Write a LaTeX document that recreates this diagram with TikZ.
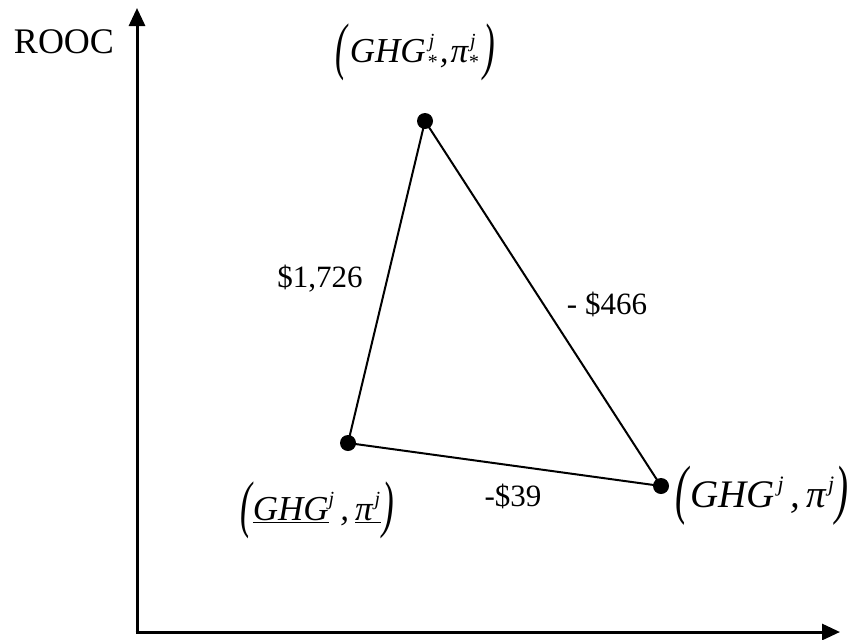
\documentclass[tikz,border=0pt]{standalone}
\usepackage{fontspec}
\usepackage{graphicx}
\setmainfont{Liberation Serif}
\usetikzlibrary{arrows.meta}
\newcommand{\lpar}[2]{\raisebox{#2}{\scalebox{1}[#1]{(}}}
\newcommand{\rpar}[2]{\raisebox{#2}{\scalebox{1}[#1]{)}}}
\newcommand{\sj}[2]{\raisebox{#2}{\fontsize{#1}{#1}\selectfont j}}
\newcommand{\sst}[2]{\raisebox{#2}{\fontsize{#1}{#1}\selectfont *}}
\begin{document}
\begin{tikzpicture}[x=1pt,y=-1pt,
  axis/.style={line width=3pt,-{Triangle[length=18pt,width=16pt]}},
  edge/.style={line width=2pt},
  dot/.style={circle,fill=black,inner sep=0pt,minimum size=16pt},
  lbl/.style={font=\fontsize{31}{36}\selectfont,inner sep=0pt},
  mlbl/.style={font=\itshape,inner sep=0pt}]
\useasboundingbox (0,0) rectangle (849,640);
\coordinate (ytop) at (137,8);
\coordinate (xend) at (840,632);
\draw[axis] (137,633.5) -- (ytop);
\draw[axis] (135.5,632) -- (xend);
\node[font=\fontsize{36}{40}\selectfont,inner sep=0pt] (yl) at (64,42) {ROOC};
\node[dot] (A) at (425,121) {};
\node[dot] (B) at (348,443) {};
\node[dot] (C) at (661,486) {};
\draw[edge] (A.center) -- (B.center) -- (C.center) -- (A.center);
\node[mlbl] (la) at (415,52) {\fontsize{35}{38}\selectfont\lpar{1.8}{-0.135em}\kern3pt GHG\kern1pt\makebox[0pt][l]{\kern2pt\sj{20}{0.42em}}\sst{20}{-0.17em}\kern3pt,\kern2ptπ\makebox[0pt][l]{\kern2pt\sj{20}{0.42em}}\sst{20}{-0.17em}\kern5pt\rpar{1.8}{-0.135em}};
\node[mlbl] (lb) at (317,510) {\fontsize{35}{38}\selectfont\lpar{1.8}{-0.135em}\kern1pt\underline{GHG}\sj{20}{0.42em}\kern6pt,\kern6pt\underline{π\kern2pt\sj{20}{0.42em}\kern1pt}\kern1pt\rpar{1.8}{-0.135em}};
\node[mlbl,anchor=west] (lc) at (675,496) {\fontsize{39}{42}\selectfont\lpar{1.68}{-0.104em}\kern2pt GHG\kern3pt\sj{22}{0.42em}\kern7pt,\kern6ptπ\kern2pt\sj{22}{0.42em}\kern1pt\rpar{1.68}{-0.104em}};
\node[lbl] (e1) at (320,279) {\$1,726};
\node[lbl] (e2) at (607,304) {- \$466};
\node[lbl] (e3) at (513,496) {-\$39};
\end{tikzpicture}
\end{document}
